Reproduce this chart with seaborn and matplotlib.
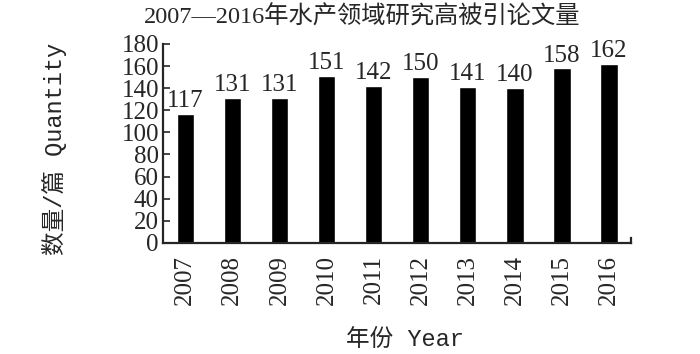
import matplotlib
matplotlib.use("Agg")
import matplotlib.pyplot as plt
import seaborn as sns
import pandas as pd

years = ["2007", "2008", "2009", "2010", "2011", "2012", "2013", "2014", "2015", "2016"]
counts = [117, 131, 131, 151, 142, 150, 141, 140, 158, 162]
y_ticks = [0, 20, 40, 60, 80, 100, 120, 140, 160, 180]

sns.set_style("ticks")
plt.rcParams["font.family"] = ["Liberation Serif", "Noto Sans CJK SC"]

df = pd.DataFrame({"year": years, "count": counts})

fig = plt.figure(figsize=(7, 3.54), dpi=100)
ax = fig.add_axes([0.233, 0.314, 0.668, 0.562])

sns.barplot(data=df, x="year", y="count", color="black", width=0.37,
            saturation=1, ax=ax)

# value labels above bars
for i, v in enumerate(counts):
    ax.text(i, v + 1.5, str(v), ha="center", va="bottom", fontsize=18,
            family="Liberation Serif")

ax.set_xlim(-0.47, 9.46)
ax.set_ylim(0, 180)
ax.set_yticks(y_ticks)
ax.tick_params(axis="y", direction="in", length=5, width=1.2, labelsize=18, pad=3)
ax.tick_params(axis="x", length=0, labelsize=18, pad=9, labelrotation=90)
for lab in ax.get_xticklabels() + ax.get_yticklabels():
    lab.set_family("Liberation Serif")

for s in ["left", "bottom"]:
    ax.spines[s].set_linewidth(1.6)
ax.spines["top"].set_visible(False)
ax.spines["right"].set_linewidth(1.6)
ax.spines["right"].set_bounds(0, 4)

ax.set_xlabel("")
ax.set_ylabel("")
fig.text(0.578, 0.008, "年份 Year", ha="center", va="bottom", fontsize=17,
         family=["Liberation Mono", "Noto Sans CJK SC"])
fig.text(0.078, 0.58, "数量/篇 Quantity", ha="center", va="center", rotation=90,
         fontsize=17, family=["Liberation Mono", "Noto Sans CJK SC"])
fig.text(0.518, 0.92, "2007—2016年水产领域研究高被引论文量", ha="center",
         va="bottom", fontsize=17.5, family=["Liberation Serif", "Noto Sans CJK SC"])

fig.savefig("out.png", dpi=100)
